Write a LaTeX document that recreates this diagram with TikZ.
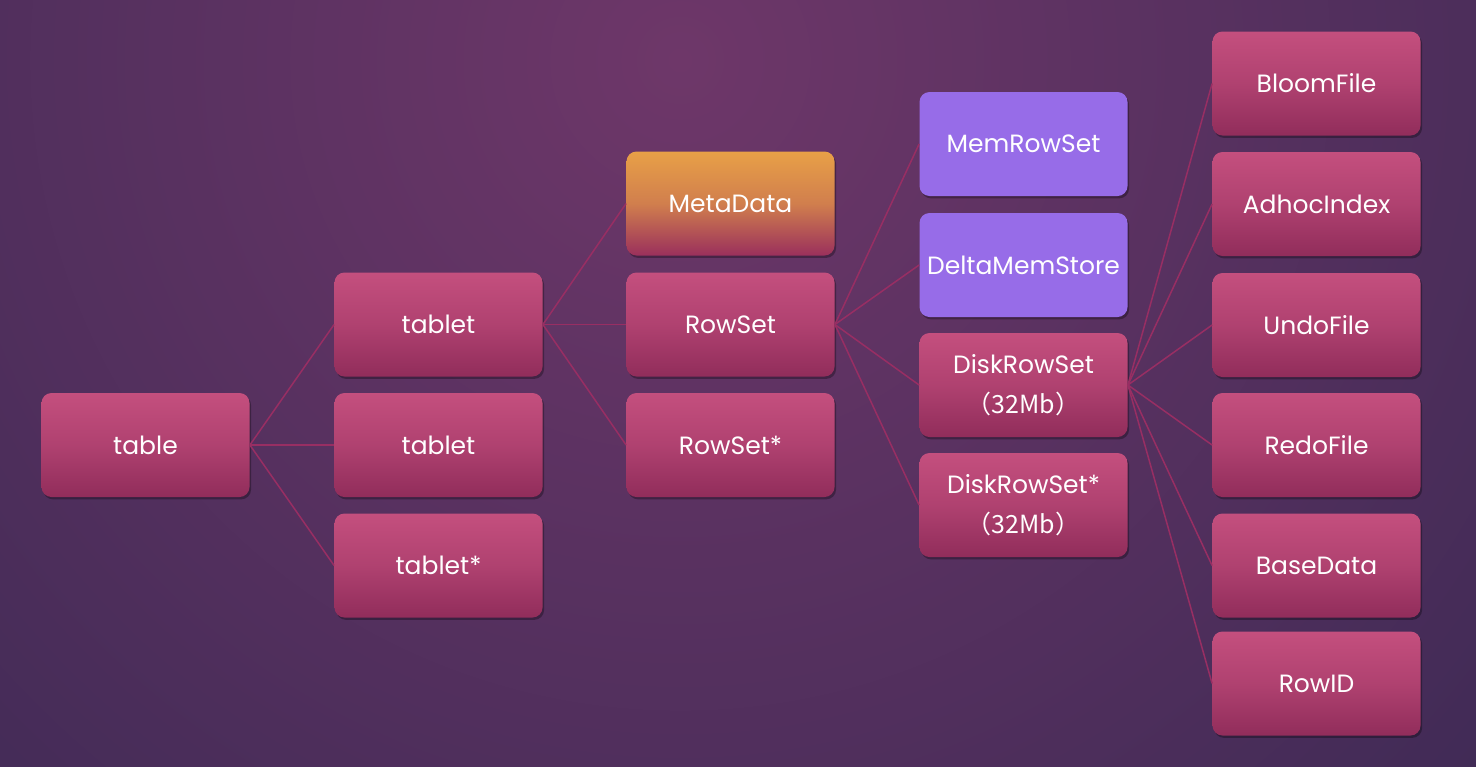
\documentclass[tikz,border=0pt]{standalone}
\usepackage{fontspec}
\setmainfont{Poppins}
\newfontfamily\cjk{Noto Sans CJK SC}
\usetikzlibrary{shadows}
\definecolor{bgin}{HTML}{6E3769}
\definecolor{bgout}{HTML}{372852}
\definecolor{pktop}{HTML}{C44F7E}
\definecolor{pkbot}{HTML}{912D5B}
\definecolor{ortop}{HTML}{E8A047}
\definecolor{orbot}{HTML}{9A305C}
\definecolor{pu}{HTML}{976CE8}
\definecolor{link}{HTML}{982E63}
\tikzset{
  box/.style={rounded corners=5pt, minimum width=104pt, minimum height=52pt,
    inner sep=0pt, text=white, align=center,
    font=\fontsize{12.5}{20}\selectfont,
    drop shadow={fill=black, opacity=0.3, shadow xshift=0.8pt, shadow yshift=-1.2pt}},
  pinkbox/.style={box, top color=pktop, bottom color=pkbot, middle color=pktop!60!pkbot},
  orbox/.style={box, top color=ortop, bottom color=orbot, middle color=ortop!70!orbot},
  pubox/.style={box, fill=pu},
  conn/.style={draw=link, line width=0.75pt},
}
\begin{document}
\begin{tikzpicture}[x=0.5pt,y=-0.5pt]
\useasboundingbox (0,0) rectangle (1476,766);
\begin{scope}
\clip (0,0) rectangle (1476,766);
\shade[inner color=bgin, outer color=bgout] (680,60) circle (1300);
\end{scope}
% nodes
\node[pinkbox] (table) at (145.5,445) {table};
\node[pinkbox] (t1) at (438.5,324.5) {tablet};
\node[pinkbox] (t2) at (438.5,445) {tablet};
\node[pinkbox] (t3) at (438.5,565.5) {tablet*};
\node[orbox] (meta) at (730.5,203.5) {MetaData};
\node[pinkbox] (rs) at (730.5,324.5) {RowSet};
\node[pinkbox] (rs2) at (730.5,445) {RowSet*};
\node[pubox] (mem) at (1023.5,144) {MemRowSet};
\node[pubox] (delta) at (1023.5,265) {DeltaMemStore};
\node[pinkbox] (disk) at (1023.5,385) {DiskRowSet\\\cjk{（}32Mb\cjk{）}};
\node[pinkbox] (disk2) at (1023.5,505) {DiskRowSet*\\\cjk{（}32Mb\cjk{）}};
\node[pinkbox] (bloom) at (1316.5,83.5) {BloomFile};
\node[pinkbox] (adhoc) at (1316.5,204) {AdhocIndex};
\node[pinkbox] (undo) at (1316.5,325) {UndoFile};
\node[pinkbox] (redo) at (1316.5,445) {RedoFile};
\node[pinkbox] (base) at (1316.5,565.5) {BaseData};
\node[pinkbox] (rowid) at (1316.5,683.5) {RowID};
% connectors
\foreach \c in {t1,t2,t3} \draw[conn] (table.east) -- (\c.west);
\foreach \c in {meta,rs,rs2} \draw[conn] (t1.east) -- (\c.west);
\foreach \c in {mem,delta,disk,disk2} \draw[conn] (rs.east) -- (\c.west);
\foreach \c in {bloom,adhoc,undo,redo,base,rowid} \draw[conn] (disk.east) -- (\c.west);
\end{tikzpicture}
\end{document}
